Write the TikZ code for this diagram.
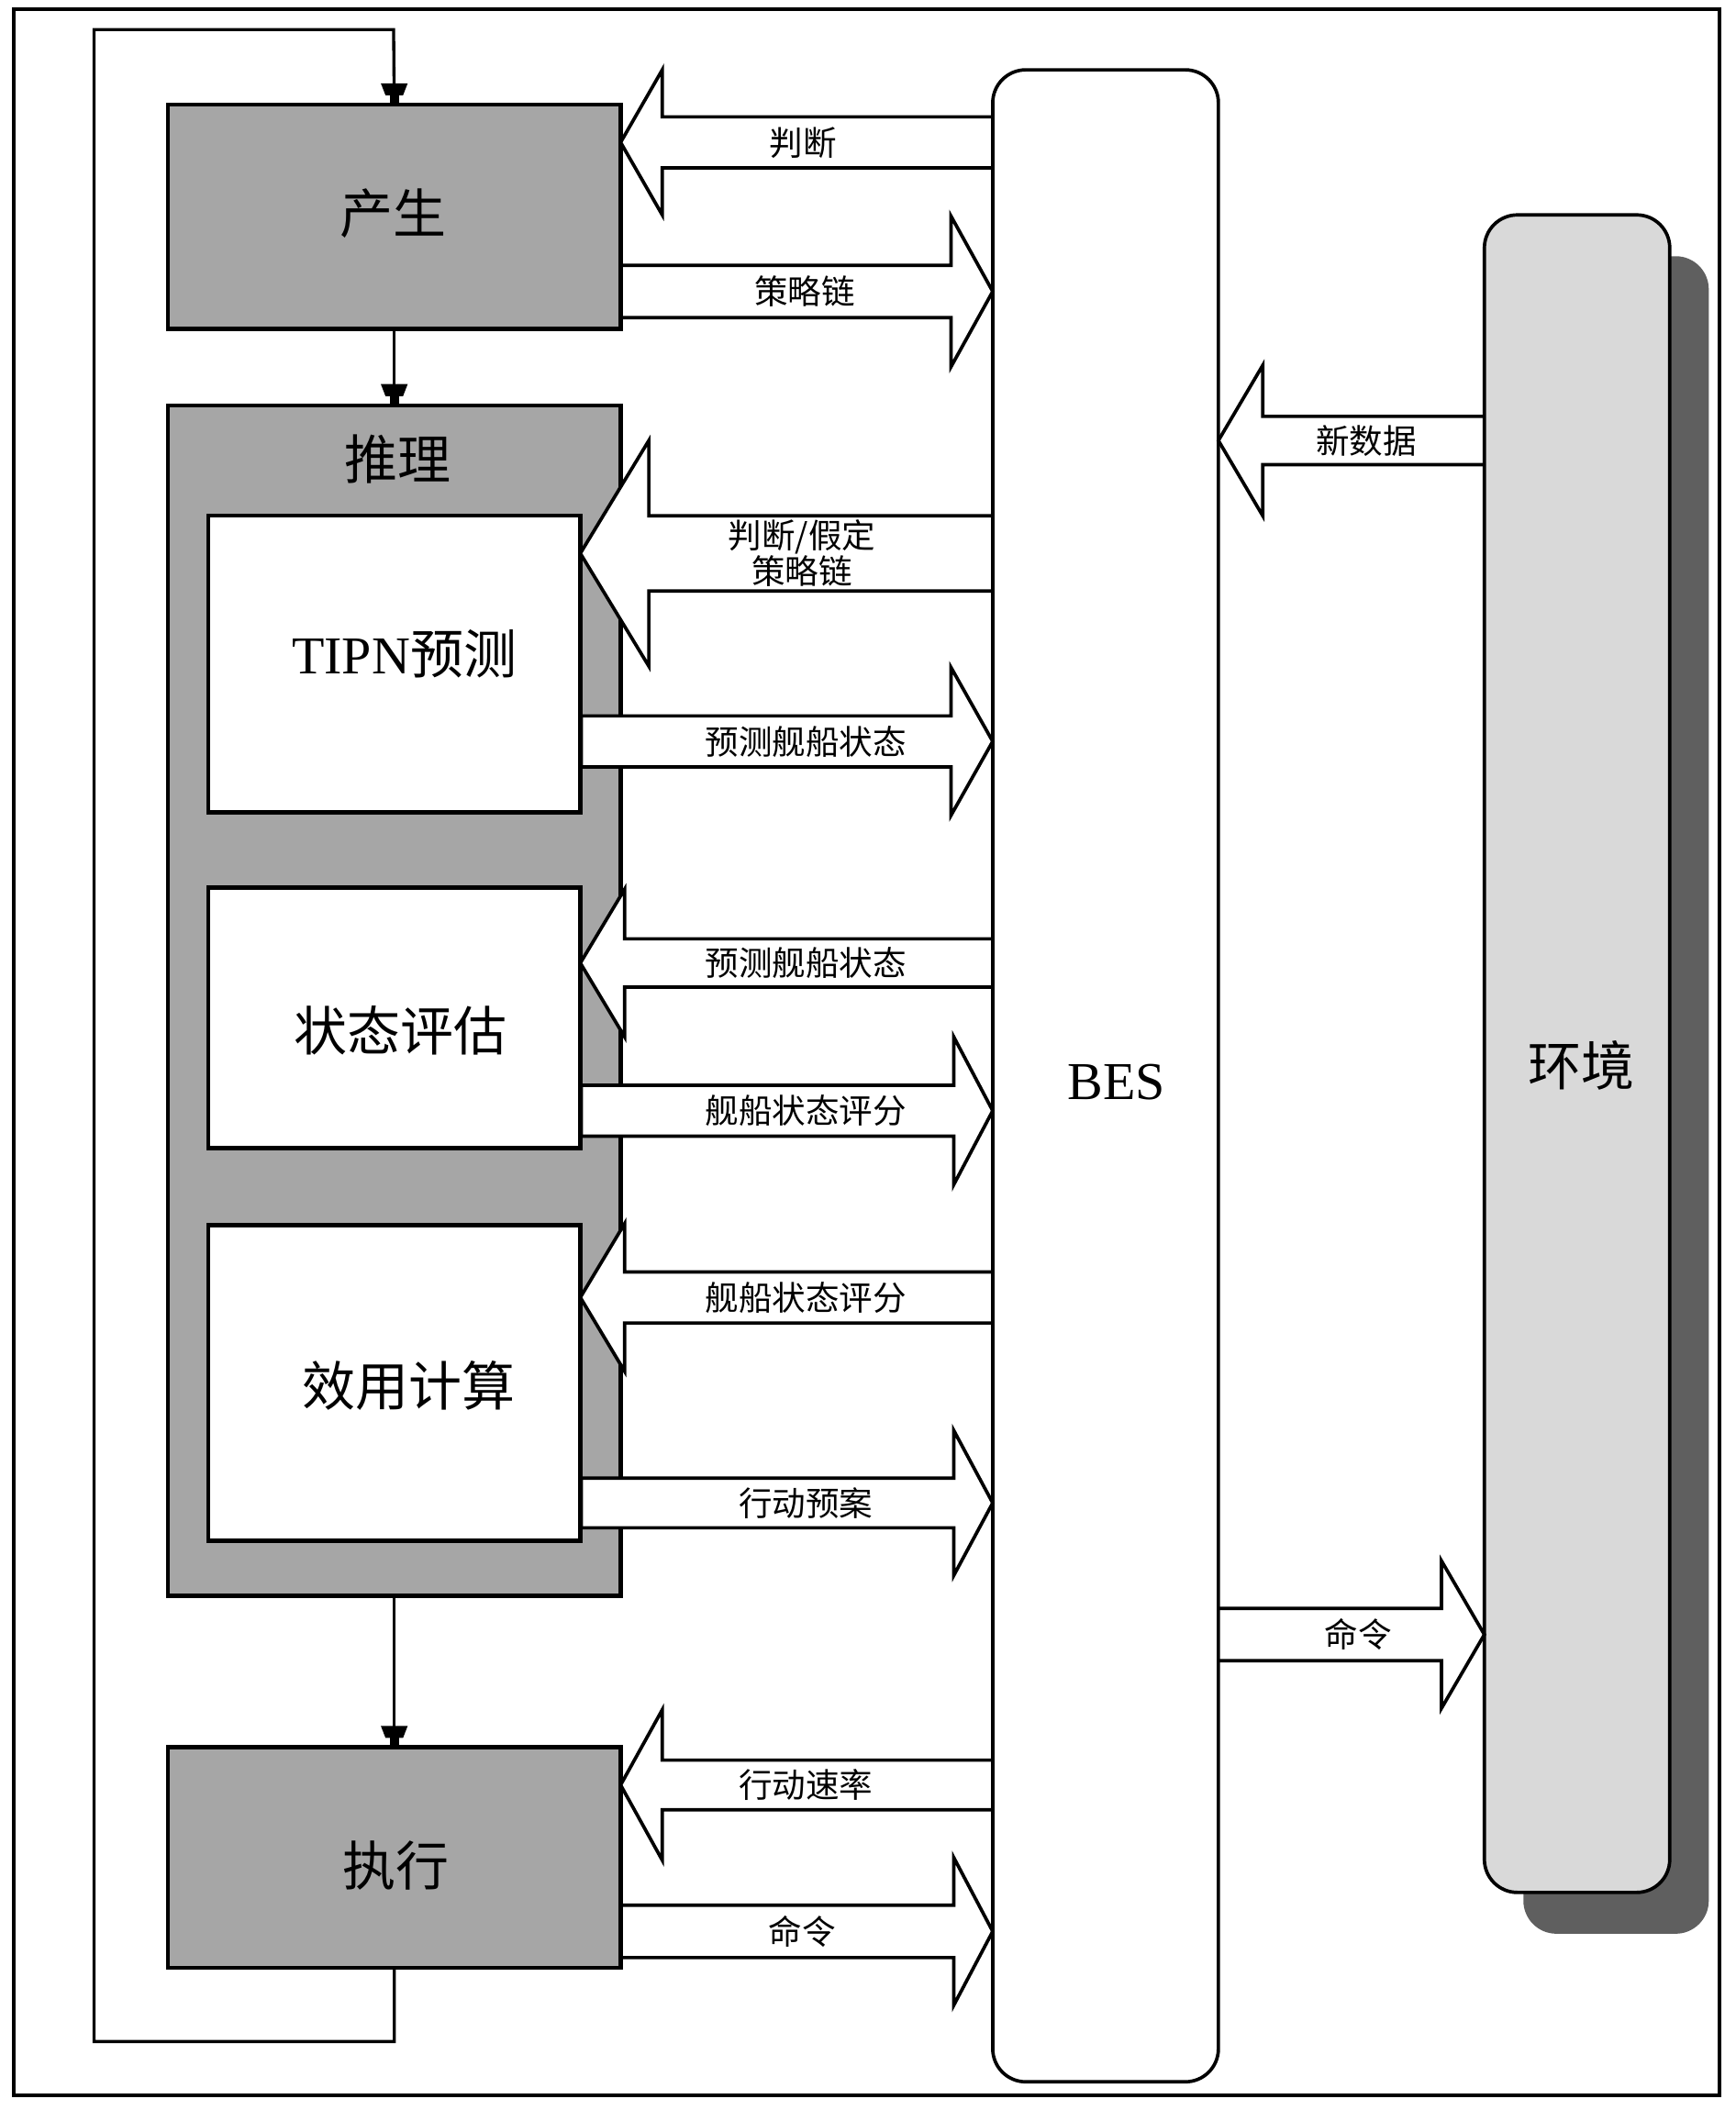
\documentclass[tikz,border=0pt]{standalone}
\usepackage{fontspec}
\setmainfont{Liberation Serif}
\newfontfamily\cjk{Noto Sans CJK SC}
\usetikzlibrary{calc,shadows}
\definecolor{boxgray}{HTML}{A6A6A6}
\definecolor{envgray}{HTML}{D9D9D9}
\definecolor{shadowgray}{HTML}{5F5F5F}
\def\U{0.1464mm}
\tikzset{
  box/.style={draw=black, line width=1.3pt, fill=boxgray, inner sep=0pt, outer sep=0pt},
  wbox/.style={box, fill=white},
  bigtxt/.style={inner sep=0pt, font=\fontsize{16.5}{18}\selectfont\cjk},
  blk/.style={draw=black, line width=1.05pt, line join=miter},
  lbl/.style={font=\fontsize{10.4}{11.8}\selectfont\cjk, inner sep=0pt, align=center},
  fb/.style={line width=0.95pt},
}
\newcommand\fbtip[1]{%
  \fill ($(#1)+(-3.5,0)$) rectangle ($(#1)+(3.5,-7)$);
  \fill ($(#1)+(-6.5,-7)$) -- ($(#1)+(6.5,-7)$) -- ($(#1)+(10,-16)$) -- ($(#1)+(-10,-16)$) -- cycle;}
% #1 tail anchor, #2 tip anchor, #3 y, #4 signed head length, #5 shaft half, #6 head half, #7 label x, #8 label
\newcommand\barrow[8]{%
  \coordinate (tl) at (#1 |- 0,#3);
  \coordinate (tp) at (#2 |- 0,#3);
  \pgfmathsetmacro\off{-2.5*sign(#4)}%
  \fill[white] ($(tl)+(\off,-#5)$) -- ($(tp)+(#4,-#5)$) -- ($(tp)+(#4,-#6)$) -- (tp)
     -- ($(tp)+(#4,#6)$) -- ($(tp)+(#4,#5)$) -- ($(tl)+(\off,#5)$) -- cycle;
  \draw[blk] ($(tl)+(0,-#5)$) -- ($(tp)+(#4,-#5)$) -- ($(tp)+(#4,-#6)$) -- (tp)
     -- ($(tp)+(#4,#6)$) -- ($(tp)+(#4,#5)$) -- ($(tl)+(0,#5)$);
  \node[lbl] (l#3) at (#7,#3) {#8};
}
\begin{document}
\begin{tikzpicture}[x=0.1464mm, y=-0.1464mm]
\useasboundingbox (0,0) rectangle (1292,1571);
\draw[line width=1.2pt] (10,7) rectangle (1280,1560);

% left column boxes
\node[box, minimum width=337*\U, minimum height=167*\U] (gen) at (293.5,161.5) {};
\node[bigtxt] (gentxt) at (293,159) {产生};
\node[box, minimum width=337*\U, minimum height=886*\U] (reason) at (293.5,745) {};
\node[bigtxt] (reasonlbl) at (296,342) {推理};
\node[wbox, minimum width=277*\U, minimum height=221*\U] (tipn) at (293.5,494.5) {};
\node[bigtxt] (tipntxt) at (301,487) {{\rmfamily TIPN}预测};
\node[wbox, minimum width=277*\U, minimum height=194*\U] (eval) at (293.5,758) {};
\node[bigtxt] (evaltxt) at (298,767) {状态评估};
\node[wbox, minimum width=277*\U, minimum height=235*\U] (util) at (293.5,1029.5) {};
\node[bigtxt] (utiltxt) at (304,1032) {效用计算};
\node[box, minimum width=337*\U, minimum height=164*\U] (exec) at (293.5,1383) {};
\node[bigtxt] (exectxt) at (295,1389) {执行};

% BES and environment
\node[draw=black, line width=1.05pt, fill=white, rounded corners=3.6mm, inner sep=0pt, outer sep=0pt,
  minimum width=168*\U, minimum height=1498*\U] (bes) at (823,801) {};
\node[inner sep=0pt, font=\fontsize{16.5}{18}\selectfont\rmfamily] (bestxt) at (831,806) {BES};
\node[draw=black, line width=1.05pt, fill=envgray, rounded corners=3.6mm, inner sep=0pt, outer sep=0pt,
  minimum width=138*\U, minimum height=1249*\U,
  drop shadow={shadow xshift=4.25mm, shadow yshift=-4.5mm, fill=shadowgray, opacity=1}]
  (env) at (1174,784.5) {};
\node[bigtxt] (envtxt) at (1177,793) {环境};

% control flow
\draw[fb] (exec.south) |- (70,1520) |- (293,22) -- (gen.north);
\fbtip{gen.north}
\draw[fb] (gen.south) -- (reason.north);
\fbtip{reason.north}
\draw[fb] (reason.south) -- (exec.north);
\fbtip{exec.north}

% block arrows
\barrow{bes.west}{gen.east}{106}{31}{19}{54}{598}{判断}
\barrow{gen.east}{bes.west}{217}{-31}{19.5}{56}{599}{策略链}
\barrow{bes.west}{tipn.east}{412}{51}{28}{84}{597}{\raisebox{-1.25mm}{\parbox{20mm}{\centering 判断/假定\\[-0.2mm]策略链}}}
\barrow{tipn.east}{bes.west}{552}{-31}{19}{55}{600}{预测舰船状态}
\barrow{bes.west}{eval.east}{717}{33}{18}{55}{600}{预测舰船状态}
\barrow{eval.east}{bes.west}{827}{-29}{19}{55}{600}{舰船状态评分}
\barrow{bes.west}{util.east}{966}{33}{19}{55}{600}{舰船状态评分}
\barrow{util.east}{bes.west}{1119}{-29}{18.5}{54}{600}{行动预案}
\barrow{bes.east}{env.west}{1217}{-32}{19.5}{55}{1011}{命令}
\barrow{env.west}{bes.east}{328}{33}{18}{56}{1017}{新数据}
\barrow{bes.west}{exec.east}{1329}{31}{18.5}{56}{600}{行动速率}
\barrow{exec.east}{bes.west}{1438}{-29}{19.5}{55}{597}{命令}
\end{tikzpicture}
\end{document}
